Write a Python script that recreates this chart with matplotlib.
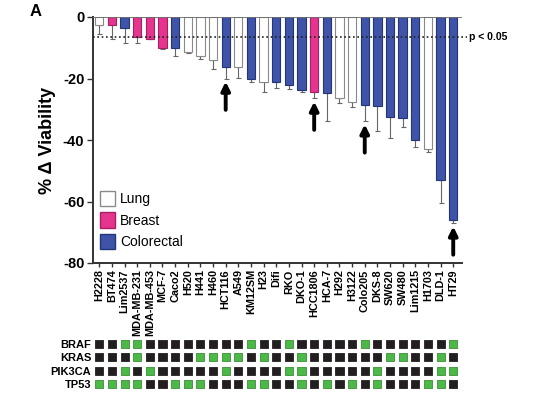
import matplotlib
matplotlib.use('Agg')
import matplotlib.pyplot as plt
from matplotlib.patches import Patch
import numpy as np

plt.rcParams['font.family'] = ['Liberation Sans', 'DejaVu Sans']
plt.rcParams['axes.unicode_minus'] = False

# cell lines, ordered as in the figure
cells = ['H2228', 'BT474', 'Lim2537', 'MDA-MB-231', 'MDA-MB-453', 'MCF-7', 'Caco2',
         'H520', 'H441', 'H460', 'HCT116', 'A549', 'KM12SM', 'H23', 'Difi', 'RKO',
         'DKO-1', 'HCC1806', 'HCA-7', 'H292', 'H3122', 'Colo205', 'DKS-8', 'SW620',
         'SW480', 'Lim1215', 'H1703', 'DLD-1', 'HT29']
tissue = ['Lung', 'Breast', 'Colorectal', 'Breast', 'Breast', 'Breast', 'Colorectal',
          'Lung', 'Lung', 'Lung', 'Colorectal', 'Lung', 'Colorectal', 'Lung', 'Colorectal',
          'Colorectal', 'Colorectal', 'Breast', 'Colorectal', 'Lung', 'Lung', 'Colorectal',
          'Colorectal', 'Colorectal', 'Colorectal', 'Colorectal', 'Lung', 'Colorectal',
          'Colorectal']
viability = [-2.7, -2.6, -3.7, -6.5, -7.0, -10.1, -10.1, -11.3, -12.7, -14.0, -16.2,
             -16.2, -20.2, -21.1, -21.3, -22.2, -23.7, -24.5, -24.6, -26.3, -27.5,
             -28.6, -29.0, -32.4, -32.7, -39.9, -42.9, -53.1, -66.0]
sem = [2.8, 4.4, 4.9, 2.1, 0.3, 0.3, 2.6, 0.4, 0.8, 2.8, 3.8, 3.7, 1.1, 3.2, 1.9, 1.2,
       0.8, 2.0, 9.3, 1.7, 1.9, 5.3, 8.0, 7.0, 3.1, 2.3, 1.1, 7.5, 1.1]
arrowed = ['HCT116', 'HCC1806', 'Colo205', 'HT29']
p_line = -6.6

genes = ['BRAF', 'KRAS', 'PIK3CA', 'TP53']
# 1 = mutated (green), 0 = wild type (black)
braf   = [0,0,1,1,0,0,0,0,0,0,0,0,1,0,0,1,0,0,0,0,0,1,0,0,0,0,0,0,1]
kras   = [0,0,0,1,0,0,0,0,1,1,1,1,0,1,0,0,1,0,0,0,0,0,0,1,1,0,0,1,0]
pik3ca = [0,0,1,0,1,0,0,0,0,0,1,0,0,0,0,1,1,0,0,0,0,0,1,0,0,0,0,1,1]
tp53   = [1,1,1,1,0,0,1,1,1,0,0,0,1,1,0,0,1,0,1,0,1,0,1,0,0,0,1,1,0]

fill = {'Lung': 'white', 'Breast': '#e5358f', 'Colorectal': '#3f54a8'}
edge = {'Lung': '#8a8a8a', 'Breast': '#a82062', 'Colorectal': '#24357a'}

fig = plt.figure(figsize=(5.54, 3.99), dpi=100)
W, H = 554, 399

# mutation grid (added first so the bar axes' tick labels sit on top)
ax2 = fig.add_axes([92.7 / W, 1 - 391 / H, 369 / W, 54 / H])
ax2.patch.set_visible(False)

ax = fig.add_axes([92.7 / W, 1 - 263 / H, 369 / W, 246 / H])
ax.patch.set_visible(False)

x = np.arange(len(cells))
ax.bar(x, viability, width=0.66, color=[fill[t] for t in tissue],
       edgecolor=[edge[t] for t in tissue], linewidth=0.8, zorder=2)
ax.errorbar(x, viability, yerr=[sem, np.zeros(len(sem))], fmt='none',
            ecolor='#666666', elinewidth=0.8, capsize=1.8, capthick=0.8, zorder=1)

ax.axhline(0, color='#707070', lw=1.3, zorder=3)
ax.plot([-0.52, 29.1], [p_line, p_line], ls=(0, (1, 1.6)), color='#222222', lw=1.2,
        clip_on=False, zorder=4)
ax.text(29.25, p_line, 'p < 0.05', fontsize=7.5, fontweight='bold', va='center',
        ha='left', clip_on=False)

for name in arrowed:
    i = cells.index(name)
    tip = viability[i] - sem[i] - 1.0
    ax.annotate('', xy=(i, tip), xytext=(i, tip - 9.2),
                arrowprops=dict(arrowstyle='-|>,head_width=0.25,head_length=0.5',
                                color='black', lw=2.8, shrinkA=0, shrinkB=0))

ax.set_xlim(-0.52, 28.67)
ax.set_ylim(-80, 0)
ax.set_yticks([0, -20, -40, -60, -80])
ax.set_yticklabels(['0', '-20', '-40', '-60', '-80'], fontsize=10.5, fontweight='bold')
ax.set_xticks(x)
ax.set_xticklabels(cells, rotation=90, fontsize=7.8, fontweight='bold')
ax.tick_params(axis='both', direction='out', color='#333333', width=1.0)
ax.tick_params(axis='y', length=4, pad=2)
ax.tick_params(axis='x', length=3, pad=1.5)
for s in ['top', 'right']:
    ax.spines[s].set_visible(False)
for s in ['left', 'bottom']:
    ax.spines[s].set_color('#333333')
    ax.spines[s].set_linewidth(1.4)
ax.set_ylabel('% \u0394 Viability', fontsize=13, fontweight='bold', labelpad=5)

handles = [Patch(facecolor=fill[t], edgecolor=edge[t], linewidth=1.0, label=t)
           for t in ['Lung', 'Breast', 'Colorectal']]
fig.legend(handles=handles, loc='upper left', bbox_to_anchor=(100 / W, 1 - 191 / H),
           frameon=False, fontsize=10, handlelength=1.1, handleheight=1.3,
           handletextpad=0.35, labelspacing=0.45, borderpad=0, borderaxespad=0)

fig.text(30 / W, 1 - 12 / H, 'A', fontsize=12, fontweight='bold', va='center')

for r, row in enumerate([braf, kras, pik3ca, tp53]):
    cols = ['#4cb848' if v else '#231f20' for v in row]
    ecs = ['#3a8f36' if v else '#231f20' for v in row]
    ax2.scatter(x, [r] * len(row), marker='s', s=34, c=cols, edgecolors=ecs,
                linewidths=0.6)
ax2.set_xlim(-0.52, 28.67)
ax2.set_ylim(3.5, -0.5)
ax2.set_xticks([])
ax2.set_yticks(range(len(genes)))
ax2.set_yticklabels(genes, fontsize=8, fontweight='bold')
ax2.tick_params(axis='y', length=0, pad=1)
for s in ax2.spines.values():
    s.set_visible(False)

fig.savefig('out.png', dpi=100)
